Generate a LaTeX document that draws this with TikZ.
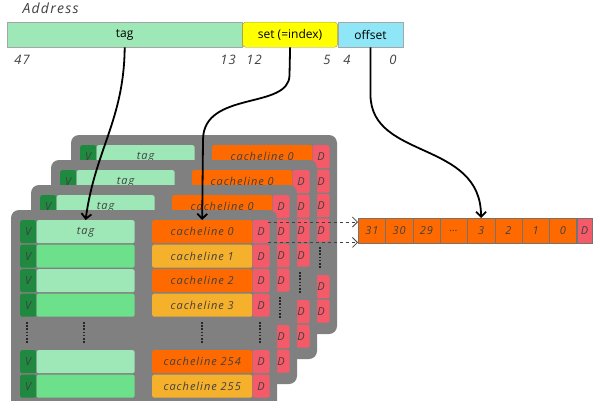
\documentclass[tikz,border=0pt]{standalone}
\usepackage{fontspec}
\setmainfont{Open Sans}
\newfontfamily\handfont[LetterSpace=9]{Open Sans}
\usetikzlibrary{arrows.meta, positioning, calc}

\definecolor{mint}{HTML}{9DE8B6}
\definecolor{tagdark}{HTML}{6CE08B}
\definecolor{vgreen}{HTML}{1F8A3F}
\definecolor{setyellow}{HTML}{FFFF00}
\definecolor{offcyan}{HTML}{8EE6F6}
\definecolor{panelgrey}{HTML}{808080}
\definecolor{lineor}{HTML}{FF6A00}
\definecolor{linelt}{HTML}{F5B02C}
\definecolor{dirty}{HTML}{F45A68}

\begin{document}
\begin{tikzpicture}[
    x=1pt, y=-1pt,
    field/.style={draw=black!35, thin, minimum height=25pt, inner sep=0pt, font=\fontsize{12}{14}\selectfont},
    bitno/.style={font=\handfont\itshape\fontsize{13}{15}\selectfont, text=black!75},
    cell/.style={minimum height=23pt, inner sep=0pt, rounded corners=2pt, font=\handfont\itshape\fontsize{11}{13}\selectfont, text=black!75},
    vbit/.style={cell, fill=vgreen, minimum width=16pt},
    tagcell/.style={cell, minimum width=98pt},
    linecell/.style={cell, minimum width=100pt},
    dbit/.style={cell, fill=dirty, minimum width=17pt},
    bytecell/.style={draw=black!55, thin, fill=lineor, minimum width=27.3pt, minimum height=25pt, inner sep=0pt, font=\handfont\itshape\fontsize{11}{13}\selectfont, text=black!75},
    link/.style={->, line width=1.8pt},
    >={Straight Barb[length=5pt, width=10pt]}
]
\useasboundingbox (0,0) rectangle (600,400);

% address fields
\node[bitno, anchor=west, font=\handfont\itshape\fontsize{14}{16}\selectfont] (addr) at (19,8) {Address};
\node[field, fill=mint, minimum width=235pt, anchor=north west] (tagf) at (7,22) {tag};
\node[field, fill=setyellow, draw=black!45!yellow, rounded corners=3pt, minimum width=95pt, right=0pt of tagf] (setf) {set (=index)};
\node[field, fill=offcyan, minimum width=65pt, right=0pt of setf] (offf) {offset};

\foreach \b/\x in {47/22, 13/228, 12/254, 5/327, 4/347, 0/393}
  \node[bitno] (bit-\b) at (\x,60) {\b};

% the four ways, back to front
\foreach \k in {3,2,1,0}{
\begin{scope}[shift={(20*\k,-25*\k)}]
  \fill[panelgrey, rounded corners=8pt] (11,210) rectangle (277,409);
  \foreach \r/\y/\tagtext/\tagcol/\linecol in {0/220/tag/mint/lineor, 1/244.5//tagdark/linelt,
      2/269//mint/lineor, 3/293.5//tagdark/linelt, 254/350//mint/lineor, 255/374.5//tagdark/linelt}{
    \node[vbit, anchor=north west] (v-\k-\r) at (20,\y) {V};
    \node[tagcell, fill=\tagcol, right=0pt of v-\k-\r] (tag-\k-\r) {\tagtext};
    \node[linecell, fill=\linecol, anchor=north west] (line-\k-\r) at (152,\y) {cacheline \r};
    \node[dbit, right=0pt of line-\k-\r] (d-\k-\r) {D};
  }
  \foreach \x in {27, 84, 202, 260}
    \draw[black!85, line width=1.6pt, dash pattern=on 1.6pt off 1.6pt] (\x,322) -- (\x,343);
\end{scope}
}

% one cache line
\foreach \t [count=\i] in {31,30,29,\dots,3,2,1,0}
  \node[bytecell, anchor=north west] (cell-\i) at ({358+27.3*(\i-1)},218) {\t};
\node[bytecell, fill=dirty, minimum width=15pt, right=0pt of cell-8] (cell-d) {D};

\draw[dashed, ->, thick, black!75] ($(d-0-0.north east)+(-2,2)$) -- ($(cell-1.north west)+(0,4)$);
\draw[dashed, ->, thick, black!75] ($(d-0-0.south east)+(-2,-1)$) -- ($(cell-1.south west)+(0,-1)$);

\draw[link] (tagf.south) .. controls (124,120) and (95,150) .. (tag-0-0.north);
\draw[link] (setf.south) -- (289.5,75) .. controls (289.5,110) and (203,90) .. (203,140) -- (line-0-0.north);
\draw[link] (offf.south) -- (370.5,95) .. controls (371,160) and (481,140) .. (cell-5.north);

\end{tikzpicture}
\end{document}
